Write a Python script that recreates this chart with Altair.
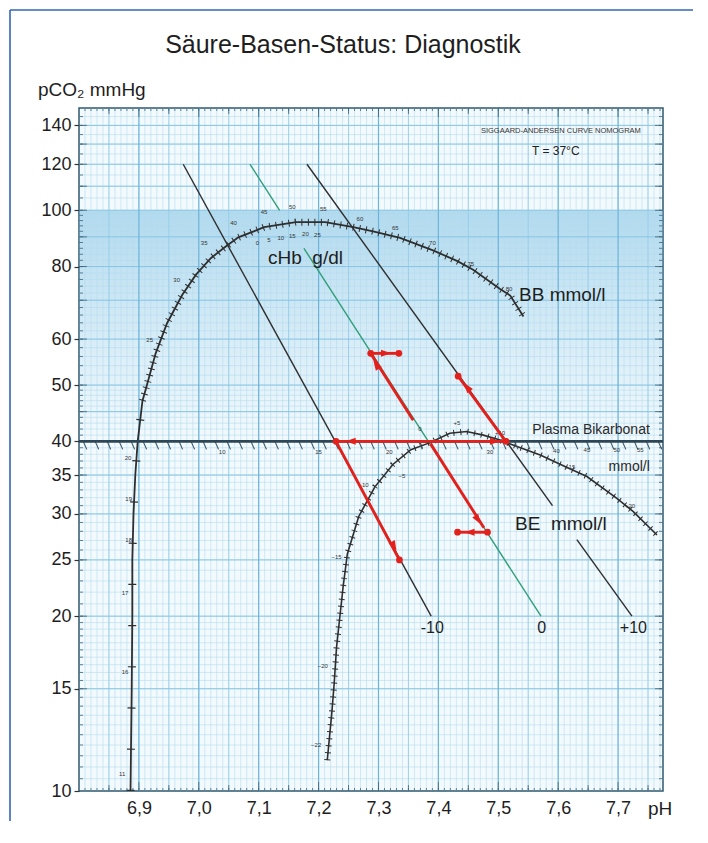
import altair as alt
import pandas as pd

FONT = "Liberation Sans"
W, H = 584, 683
RED = "#e3211c"
INK = "#2e2e2e"

# ---------------- axes ----------------
ph_domain = [6.8, 7.775]
pco2_domain = [10, 150]
x_labels = [6.9, 7.0, 7.1, 7.2, 7.3, 7.4, 7.5, 7.6, 7.7]
y_labels = [10, 15, 20, 25, 30, 35, 40, 50, 60, 80, 100, 120, 140]

# ---------------- BB curve (left line + upper arc) ----------------
bb_ph = [6.886, 6.888, 6.889, 6.889, 6.891, 6.894, 6.898, 6.906, 6.911, 6.928,
         6.947, 6.972, 6.995, 7.020, 7.045, 7.066, 7.109, 7.162, 7.211, 7.258,
         7.291, 7.336, 7.391, 7.431, 7.458, 7.503, 7.520, 7.542]
bb_pco2 = [10, 15, 20, 25, 30, 35, 40, 47, 49, 56.7,
           63.9, 71.4, 77.4, 82.7, 86.6, 89.8, 93.5, 95.4, 95.4, 93.5,
           92.0, 89.6, 85.3, 81.8, 79.0, 73.2, 71.3, 65.6]

# ---------------- BE curve (lower arc) ----------------
be_ph = [7.2145, 7.222, 7.226, 7.230, 7.241, 7.248, 7.267, 7.294, 7.324, 7.354,
         7.386, 7.419, 7.447, 7.475, 7.503, 7.520, 7.570, 7.614, 7.648, 7.698,
         7.725, 7.765]
be_pco2 = [11.3, 13.6, 15.3, 17.7, 22.5, 25.6, 29.7, 33.4, 36.5, 38.7,
           39.8, 41.3, 41.6, 41.0, 40.2, 39.6, 37.9, 36.1, 34.8, 31.9,
           30.3, 27.6]

# ---------------- BE iso-lines (-10, 0, +10) ----------------
beline_id = ["m10", "m10", "p10a", "p10a", "p10b", "p10b"]
beline_ph = [6.974, 7.388, 7.1806, 7.5905, 7.6312, 7.7232]
beline_pco2 = [120, 20, 120, 31.0, 27.1, 20]
zero_id = ["z1", "z1", "z2", "z2"]
zero_ph = [7.0855, 7.135, 7.1755, 7.5713]
zero_pco2 = [120, 100, 86, 20]

# ---------------- red construction arrows ----------------
arrow_id = ["A", "A", "B", "B", "C", "C", "Ch", "Ch", "D", "D", "Dh", "Dh", "E", "E"]
arrow_ph = [7.229, 7.513, 7.229, 7.335, 7.358, 7.287, 7.287, 7.334,
            7.387, 7.476, 7.432, 7.482, 7.511, 7.433]
arrow_pco2 = [40, 40, 40, 25, 43.5, 56.7, 56.7, 56.7, 39.6, 28.4, 27.9, 27.9, 40.2, 51.8]
dot_ph = [7.229, 7.513, 7.335, 7.287, 7.334, 7.432, 7.482, 7.433]
dot_pco2 = [40, 40, 25, 56.7, 56.7, 27.9, 27.9, 51.8]
head_ph = [7.2536, 7.4945, 7.326, 7.296, 7.3125, 7.466, 7.452, 7.448]
head_pco2 = [40, 40, 26.4, 54.2, 56.7, 29.3, 27.9, 49.6]
head_angle = [270, 90, 152, 327, 90, 148, 270, 324]

# ---------------- small scale labels on curves ----------------
small_text = ["25", "30", "35", "40", "45", "50", "55", "60", "65", "70", "75", "80",
              "0", "5", "10", "15", "20", "25",
              "−22", "−20", "−15", "−10", "−5", "0", "+5", "+10", "+15", "+20",
              "20", "19", "18", "17", "16", "11",
              "10", "15", "20", "30", "40", "45", "50", "55"]
small_ph = [6.918, 6.963, 7.009, 7.058, 7.109, 7.156, 7.208, 7.269, 7.328, 7.390, 7.454, 7.518,
            7.098, 7.117, 7.137, 7.156, 7.178, 7.198,
            7.196, 7.207, 7.230, 7.275, 7.339, 7.369, 7.431, 7.503, 7.620, 7.720,
            6.882, 6.883, 6.883, 6.877, 6.877, 6.872,
            7.039, 7.200, 7.318, 7.486, 7.597, 7.648, 7.698, 7.737]
small_pco2 = [59.8, 75.8, 87.7, 95.0, 99.4, 101.4, 100.6, 96.5, 93.1, 87.7, 80.8, 73.1,
              87.7, 88.9, 89.7, 90.3, 90.9, 90.6,
              12.0, 16.4, 25.3, 33.6, 34.8, 42.0, 43.0, 41.4, 36.1, 30.9,
              37.4, 31.8, 27.1, 21.9, 16.0, 10.7,
              38.4, 38.3, 38.3, 38.3, 38.5, 38.6, 38.6, 38.6]

big_text = ["cHb\u00a0 g/dl", "BB mmol/l", "BE\u00a0 mmol/l"]
big_ph = [7.1155, 7.5346, 7.5279]
big_pco2 = [82.7, 71.4, 28.8]

be_end_text = ["-10", "0", "+10"]
be_end_ph = [7.3898, 7.5726, 7.7255]
be_end_pco2 = [19.1, 19.1, 19.1]

plasma_text = ["Plasma Bikarbonat", "mmol/l"]
plasma_ph = [7.753, 7.753]
plasma_pco2 = [41.9, 36.1]

# ---------------- grid positions ----------------
v_minor = [round(6.8 + 0.01 * i, 2) for i in range(1, 98)]
v_mid = [v for v in v_minor if round(v * 100) % 5 == 0 and round(v * 100) % 10 != 0]
v_major = [round(6.8 + 0.1 * i, 1) for i in range(1, 10)]
h_minor = ([10 + 0.5 * i for i in range(1, 20)] + list(range(20, 50)) +
           list(range(50, 100, 2)) + list(range(100, 150, 5)))
h_major = [15, 20, 25, 30, 35, 40, 45, 50, 60, 70, 80, 90, 100, 110, 120, 130, 140]
hatch40_ph = [round(6.81 + 0.02 * i, 2) for i in range(0, 49)]

# ---------------- scales / encodings ----------------
xscale = alt.Scale(domain=ph_domain, nice=False, zero=False)
yscale = alt.Scale(type="log", domain=pco2_domain, nice=False)
xaxis = alt.Axis(values=x_labels, labelExpr="replace(format(datum.value, '.1f'), '.', ',')",
                 title=None, grid=False, ticks=False, domain=False, labelFont=FONT,
                 labelFontSize=18, labelColor="#1e1e1e", labelPadding=8, labelOverlap=False,
                 labelFlush=False)
yaxis = alt.Axis(values=y_labels, format="d", title=None, grid=False, tickSize=5,
                 tickColor="#333333", tickWidth=1.2, domain=False, labelFont=FONT,
                 labelFontSize=18, labelColor="#1e1e1e", labelPadding=3, labelOverlap=False)


def X(f):
    return alt.X(f, type="quantitative", scale=xscale, axis=xaxis)


def Y(f):
    return alt.Y(f, type="quantitative", scale=yscale, axis=yaxis)


one = pd.DataFrame({"a": [0]})
bb_df = pd.DataFrame({"pH": bb_ph, "pCO2": bb_pco2, "k": range(len(bb_ph))})
be_df = pd.DataFrame({"pH": be_ph, "pCO2": be_pco2, "k": range(len(be_ph))})
beline_df = pd.DataFrame({"id": beline_id, "pH": beline_ph, "pCO2": beline_pco2})
zero_df = pd.DataFrame({"id": zero_id, "pH": zero_ph, "pCO2": zero_pco2})
arrow_df = pd.DataFrame({"id": arrow_id, "pH": arrow_ph, "pCO2": arrow_pco2,
                         "k": range(len(arrow_ph))})
dot_df = pd.DataFrame({"pH": dot_ph, "pCO2": dot_pco2})
head_df = pd.DataFrame({"pH": head_ph, "pCO2": head_pco2, "angle": head_angle})
small_df = pd.DataFrame({"pH": small_ph, "pCO2": small_pco2, "t": small_text})
big_df = pd.DataFrame({"pH": big_ph, "pCO2": big_pco2, "t": big_text})
end_df = pd.DataFrame({"pH": be_end_ph, "pCO2": be_end_pco2, "t": be_end_text})
plasma_df = pd.DataFrame({"pH": plasma_ph, "pCO2": plasma_pco2, "t": plasma_text})
band_df = pd.DataFrame({"top": [100], "bottom": [40]})
hatch_df = pd.DataFrame({"pH": hatch40_ph, "pCO2": [40] * len(hatch40_ph)})

layers = []

# tinted band below 100 mmHg
band = alt.Gradient(
    gradient="linear",
    stops=[alt.GradientStop(color="rgba(105,182,222,0.48)", offset=0),
           alt.GradientStop(color="rgba(105,182,222,0.25)", offset=0.45),
           alt.GradientStop(color="rgba(105,182,222,0.0)", offset=1)],
    x1=0, x2=0, y1=0, y2=1)
layers.append(alt.Chart(band_df).mark_rect(color=band).encode(
    x=alt.value(0), x2=alt.value(W), y=Y("top"), y2=alt.Y2("bottom")))


# grid
def vgrid(vals, color, width):
    return alt.Chart(pd.DataFrame({"v": vals})).mark_rule(color=color, strokeWidth=width).encode(x=X("v"))


def hgrid(vals, color, width):
    return alt.Chart(pd.DataFrame({"v": vals})).mark_rule(color=color, strokeWidth=width).encode(y=Y("v"))


layers += [vgrid(v_minor, "#b6dcef", 0.6), hgrid(h_minor, "#b6dcef", 0.6),
           vgrid(v_mid, "#92cbe7", 0.8), hgrid(h_major, "#8ac6e4", 1.0),
           vgrid(v_major, "#6db4da", 1.2)]

# inner edge ticks (ruler look)
EDGE = "#3f6378"


def xticks(vals, y0, y1):
    return alt.Chart(pd.DataFrame({"v": vals})).mark_rule(color=EDGE, strokeWidth=0.8).encode(
        x=X("v"), y=alt.value(y0), y2=alt.value(y1))


def yticks(vals, x0, x1):
    return alt.Chart(pd.DataFrame({"v": vals})).mark_rule(color=EDGE, strokeWidth=0.8).encode(
        y=Y("v"), x=alt.value(x0), x2=alt.value(x1))


layers += [xticks(v_minor, H, H - 3), xticks(v_mid, H, H - 6), xticks(v_major, H, H - 9),
           xticks(v_minor, 0, 3), xticks(v_mid, 0, 6), xticks(v_major, 0, 9),
           yticks(h_minor, 0, 4), yticks(h_major, 0, 8),
           yticks(h_minor, W, W - 4), yticks(h_major, W, W - 8)]

# BE iso-lines
layers.append(alt.Chart(beline_df).mark_line(color=INK, strokeWidth=1.4).encode(
    x=X("pH"), y=Y("pCO2"), detail="id:N"))
layers.append(alt.Chart(zero_df).mark_line(color="#2f9e78", strokeWidth=1.4).encode(
    x=X("pH"), y=Y("pCO2"), detail="id:N"))

# curves
layers.append(alt.Chart(bb_df).mark_line(color=INK, strokeWidth=1.8).encode(
    x=X("pH"), y=Y("pCO2"), order="k:Q"))
layers.append(alt.Chart(bb_df).transform_filter("datum.pCO2 >= 45").mark_line(
    color=INK, strokeWidth=7, strokeDash=[1, 5.5], strokeCap="butt").encode(
    x=X("pH"), y=Y("pCO2"), order="k:Q"))
layers.append(alt.Chart(bb_df).transform_filter("datum.pCO2 <= 47").mark_line(
    color=INK, strokeWidth=8, strokeDash=[1.2, 40], strokeCap="butt").encode(
    x=X("pH"), y=Y("pCO2"), order="k:Q"))
layers.append(alt.Chart(be_df).mark_line(color=INK, strokeWidth=1.6).encode(
    x=X("pH"), y=Y("pCO2"), order="k:Q"))
layers.append(alt.Chart(be_df).mark_line(
    color=INK, strokeWidth=6, strokeDash=[1, 6], strokeCap="butt").encode(
    x=X("pH"), y=Y("pCO2"), order="k:Q"))

# plasma bicarbonate line at 40 mmHg with slanted hatch
layers.append(alt.Chart(hatch_df).mark_point(shape="M-0.45,-1L0.45,1", filled=False, size=64,
                                             strokeWidth=1.1, color="#3d5566", opacity=1,
                                             yOffset=4).encode(x=X("pH"), y=Y("pCO2")))
forty = pd.DataFrame({"v": [40]})
layers.append(alt.Chart(forty).mark_rule(color="#2c4656", strokeWidth=2.6).encode(y=Y("v")))

# texts in data space
layers.append(alt.Chart(small_df).mark_text(font=FONT, fontSize=6, color="#333333").encode(
    x=X("pH"), y=Y("pCO2"), text="t:N"))
layers.append(alt.Chart(big_df).mark_text(font=FONT, fontSize=19, color="#1e1e1e", align="left",
                                          baseline="middle").encode(x=X("pH"), y=Y("pCO2"), text="t:N"))
layers.append(alt.Chart(end_df).mark_text(font=FONT, fontSize=16, color="#1e1e1e",
                                          baseline="middle").encode(x=X("pH"), y=Y("pCO2"), text="t:N"))
layers.append(alt.Chart(plasma_df).mark_text(font=FONT, fontSize=14, color="#2a2a2a", align="right",
                                             baseline="middle").encode(x=X("pH"), y=Y("pCO2"), text="t:N"))
layers.append(alt.Chart(pd.DataFrame({"pH": [7.738], "pCO2": [137.0], "t": ["SIGGAARD-ANDERSEN CURVE NOMOGRAM"]}))
              .mark_text(font=FONT, fontSize=7.5, color="#333333", align="right", baseline="middle")
              .encode(x=X("pH"), y=Y("pCO2"), text="t:N"))
layers.append(alt.Chart(pd.DataFrame({"pH": [7.596], "pCO2": [126.6], "t": ["T = 37°C"]}))
              .mark_text(font=FONT, fontSize=12, color="#222222", baseline="middle")
              .encode(x=X("pH"), y=Y("pCO2"), text="t:N"))

# red construction arrows
layers.append(alt.Chart(arrow_df).mark_line(color=RED, strokeWidth=2.9).encode(
    x=X("pH"), y=Y("pCO2"), detail="id:N", order="k:Q"))
layers.append(alt.Chart(dot_df).mark_point(filled=True, size=45, color=RED, opacity=1).encode(
    x=X("pH"), y=Y("pCO2")))
layers.append(alt.Chart(head_df).mark_point(shape="M0,-1L0.7,1L-0.7,1Z", filled=True, size=100,
                                            color=RED, opacity=1).encode(
    x=X("pH"), y=Y("pCO2"), angle=alt.Angle("angle:Q", scale=None)))

# page texts and frame
layers.append(alt.Chart(one).mark_text(font=FONT, fontSize=25, color="#1e1e1e", baseline="middle").encode(
    x=alt.value(264), y=alt.value(-63), text=alt.value("Säure-Basen-Status: Diagnostik")))
layers.append(alt.Chart(one).mark_text(font=FONT, fontSize=19, color="#1e1e1e", align="left",
                                       baseline="middle").encode(
    x=alt.value(-41), y=alt.value(-18), text=alt.value("pCO₂ mmHg")))
layers.append(alt.Chart(one).mark_text(font=FONT, fontSize=19, color="#1e1e1e", align="left",
                                       baseline="middle").encode(
    x=alt.value(569), y=alt.value(701), text=alt.value("pH")))
layers.append(alt.Chart(one).mark_rule(color="#3465b5", strokeWidth=1.6).encode(
    x=alt.value(-69), x2=alt.value(W + 40), y=alt.value(-98)))
layers.append(alt.Chart(one).mark_rule(color="#3465b5", strokeWidth=1.6).encode(
    x=alt.value(-69), y=alt.value(-98), y2=alt.value(H + 40)))

chart = alt.layer(*layers).properties(
    width=W, height=H,
    padding={"left": 71, "top": 100, "right": 30, "bottom": 30},
    autosize=alt.AutoSizeParams(type="none"),
    background="white",
).configure_view(stroke="#2f5870", strokeWidth=1.5, fill="#f3fafd")

chart.save("out.html", embed_options={"renderer": "svg", "actions": False})
